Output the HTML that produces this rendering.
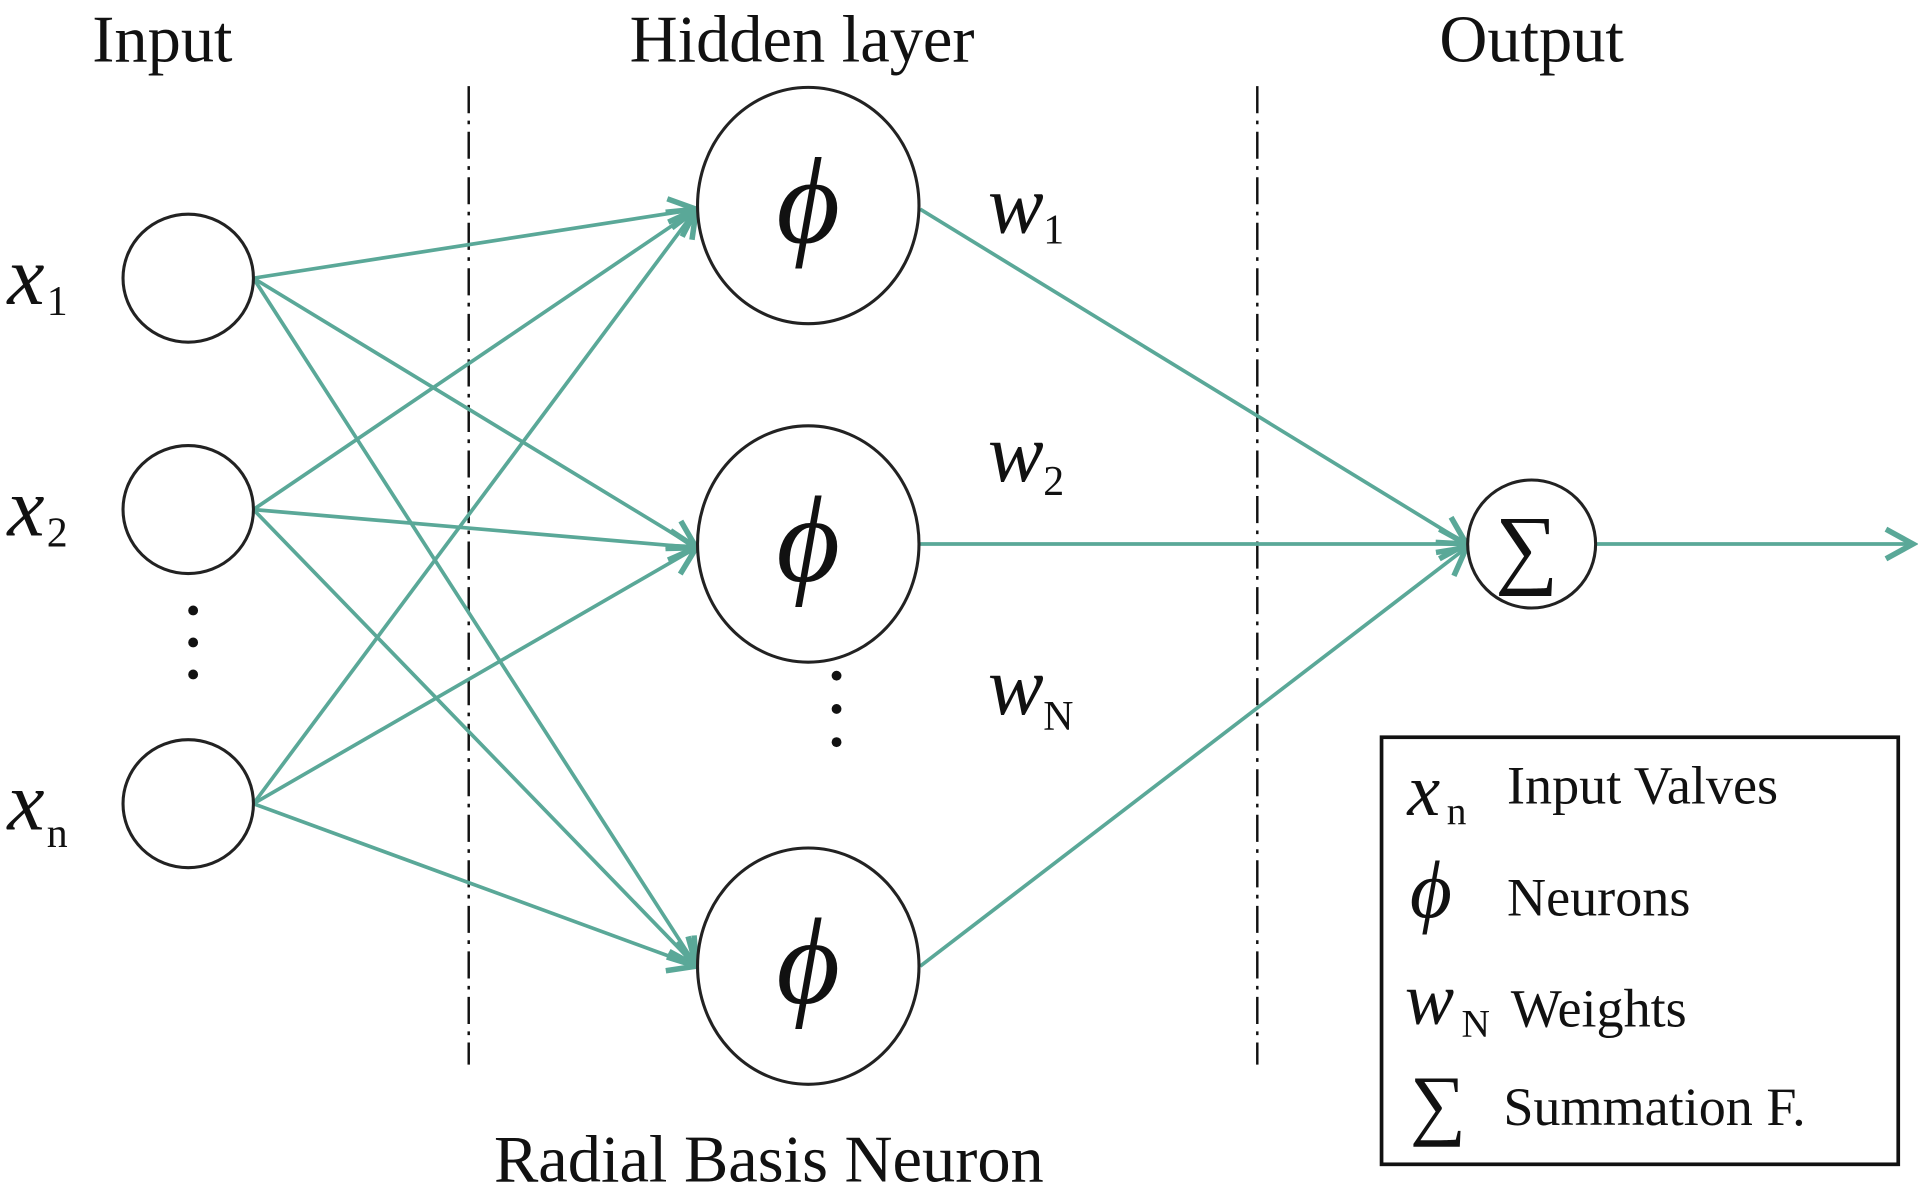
<!DOCTYPE html>
<html><head><style>html,body{margin:0;padding:0;background:#fff}svg{display:block}</style></head>
<body>
<svg width="1929" height="1200" viewBox="0 0 1568 975" preserveAspectRatio="none" xmlns="http://www.w3.org/2000/svg">
<defs>
<marker id="b" markerWidth="30" markerHeight="30" refX="26" refY="15" orient="auto" markerUnits="userSpaceOnUse" viewBox="0 0 30 30">
<path d="M4,3 L26,15 L4,27" fill="none" stroke="#5aa898" stroke-width="4.5"/>
</marker>
</defs>
<g font-family="Liberation Serif, serif" fill="#111">
<text x="132" y="50" font-size="54" text-anchor="middle">Input</text>
<text x="652" y="50" font-size="54" text-anchor="middle">Hidden layer</text>
<text x="1245" y="50" font-size="54" text-anchor="middle">Output</text>
<text x="625" y="960" font-size="54" text-anchor="middle">Radial Basis Neuron</text>
</g>
<g stroke="#111" stroke-width="2" stroke-dasharray="22,6,3,6">
<line x1="381" y1="70" x2="381" y2="865"/>
<line x1="1022" y1="70" x2="1022" y2="865"/>
</g>
<g stroke="#5aa898" stroke-width="3" fill="none" marker-end="url(#b)">
<line x1="206" y1="226" x2="566" y2="170"/>
<line x1="206" y1="226" x2="566" y2="445"/>
<line x1="206" y1="226" x2="566" y2="785"/>
<line x1="206" y1="414" x2="566" y2="170"/>
<line x1="206" y1="414" x2="566" y2="445"/>
<line x1="206" y1="414" x2="566" y2="785"/>
<line x1="206" y1="653" x2="566" y2="170"/>
<line x1="206" y1="653" x2="566" y2="445"/>
<line x1="206" y1="653" x2="566" y2="785"/>
<line x1="748" y1="170" x2="1192" y2="442"/>
<line x1="748" y1="442" x2="1192" y2="442"/>
<line x1="748" y1="785" x2="1192" y2="445"/>
<line x1="1297" y1="442" x2="1555" y2="442"/>
</g>
<g stroke="#222" stroke-width="2.5" fill="#fff">
<ellipse cx="153" cy="226" rx="53" ry="52"/>
<ellipse cx="153" cy="414" rx="53" ry="52"/>
<ellipse cx="153" cy="653" rx="53" ry="52"/>
<ellipse cx="657" cy="167" rx="90" ry="96"/>
<ellipse cx="657" cy="442" rx="90" ry="96"/>
<ellipse cx="657" cy="785" rx="90" ry="96"/>
<ellipse cx="1245" cy="442" rx="52" ry="52"/>
</g>
<g font-family="Liberation Serif, serif" fill="#111">
<text x="657" y="197" font-size="100" font-style="italic" text-anchor="middle">ϕ</text>
<text x="657" y="472" font-size="100" font-style="italic" text-anchor="middle">ϕ</text>
<text x="657" y="815" font-size="100" font-style="italic" text-anchor="middle">ϕ</text>
<text x="1241" y="469" font-size="72" text-anchor="middle">∑</text>
<text x="6" y="247" font-size="68" font-style="italic">x</text><text x="38" y="256" font-size="34">1</text>
<text x="6" y="435" font-size="68" font-style="italic">x</text><text x="38" y="444" font-size="34">2</text>
<text x="6" y="674" font-size="68" font-style="italic">x</text><text x="38" y="688" font-size="34">n</text>
<text x="803" y="189" font-size="68" font-style="italic">w</text><text x="848" y="198" font-size="34">1</text>
<text x="803" y="391" font-size="68" font-style="italic">w</text><text x="848" y="402" font-size="34">2</text>
<text x="803" y="580" font-size="68" font-style="italic">w</text><text x="848" y="593" font-size="34">N</text>
</g>
<g fill="#111">
<circle cx="157" cy="496" r="4"/><circle cx="157" cy="522" r="4"/><circle cx="157" cy="548" r="4"/>
<circle cx="680" cy="549" r="4"/><circle cx="680" cy="576" r="4"/><circle cx="680" cy="603" r="4"/>
</g>
<rect x="1123" y="599" width="420" height="347" fill="none" stroke="#111" stroke-width="3"/>
<g font-family="Liberation Serif, serif" fill="#111">
<text x="1144" y="662" font-size="60" font-style="italic">x</text><text x="1176" y="670" font-size="32">n</text>
<text x="1225" y="653" font-size="44">Input Valves</text>
<text x="1146" y="745" font-size="66" font-style="italic">ϕ</text>
<text x="1225" y="744" font-size="44">Neurons</text>
<text x="1142" y="832" font-size="60" font-style="italic">w</text><text x="1188" y="842" font-size="32">N</text>
<text x="1228" y="834" font-size="44">Weights</text>
<text x="1146" y="918" font-size="64">∑</text>
<text x="1222" y="914" font-size="44">Summation F.</text>
</g>
</svg>
</body></html>
